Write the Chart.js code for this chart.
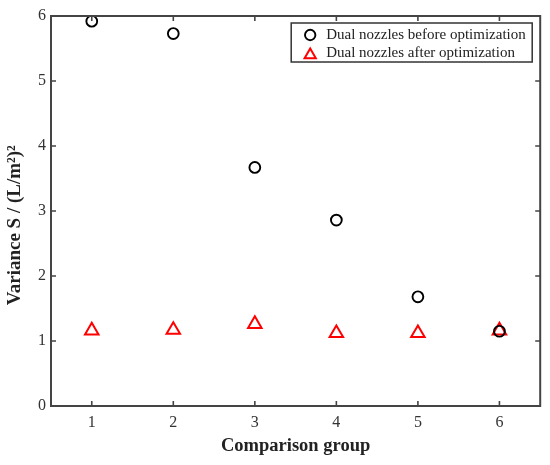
<!DOCTYPE html>
<html>
<head>
<meta charset="utf-8">
<script src="https://cdn.jsdelivr.net/npm/chart.js@4.4.0/dist/chart.umd.min.js"></script>
<style>
  html, body { margin: 0; padding: 0; background: #ffffff; }
  #wrap { width: 550px; height: 465px; }
</style>
</head>
<body>
<div id="wrap"><canvas id="c" width="550" height="465"></canvas></div>
<script>
const groups = [1, 2, 3, 4, 5, 6];
const beforeOpt = [5.92, 5.73, 3.67, 2.86, 1.68, 1.15];
const afterOpt = [1.16, 1.17, 1.26, 1.12, 1.12, 1.16];
const xTicks = [1, 2, 3, 4, 5, 6];
const yTicks = [0, 1, 2, 3, 4, 5, 6];
const seriesNames = ['Dual nozzles before optimization', 'Dual nozzles after optimization'];

const SERIF = '"Liberation Serif", "Times New Roman", serif';
const AXIS_COLOR = '#444444';
const TEXT_COLOR = '#333333';

const framePlugin = {
  id: 'frame',
  afterDatasetsDraw(chart) {
    const ctx = chart.ctx;
    const a = chart.chartArea;
    const xs = chart.scales.x, ys = chart.scales.y;
    const tl = 5;
    ctx.save();
    ctx.strokeStyle = AXIS_COLOR;
    ctx.lineWidth = 1.6;
    ctx.beginPath();
    xTicks.forEach(v => {
      const px = xs.getPixelForValue(v);
      ctx.moveTo(px, a.bottom); ctx.lineTo(px, a.bottom - tl);
      ctx.moveTo(px, a.top); ctx.lineTo(px, a.top + tl);
    });
    yTicks.forEach(v => {
      const py = ys.getPixelForValue(v);
      ctx.moveTo(a.left, py); ctx.lineTo(a.left + tl, py);
      ctx.moveTo(a.right, py); ctx.lineTo(a.right - tl, py);
    });
    ctx.stroke();
    ctx.lineWidth = 2;
    ctx.strokeRect(a.left, a.top, a.right - a.left, a.bottom - a.top);
    ctx.restore();
  },
  afterDraw(chart) {
    // legend box in the upper right corner of the plot area
    const ctx = chart.ctx;
    const a = chart.chartArea;
    const boxRight = a.right - 8, boxTop = a.top + 7;
    const boxW = 241, boxH = 39;
    const boxLeft = boxRight - boxW;
    ctx.save();
    ctx.fillStyle = '#ffffff';
    ctx.fillRect(boxLeft, boxTop, boxW, boxH);
    ctx.strokeStyle = '#333333';
    ctx.lineWidth = 1.5;
    ctx.strokeRect(boxLeft, boxTop, boxW, boxH);
    ctx.font = '15px ' + SERIF;
    ctx.textBaseline = 'middle';
    ctx.textAlign = 'left';
    chart.data.datasets.forEach((ds, i) => {
      const cy = boxTop + 12 + i * 18.5;
      const cx = boxLeft + 19;
      ctx.strokeStyle = ds.borderColor;
      ctx.fillStyle = 'rgba(0,0,0,0)';
      ctx.lineWidth = ds.borderWidth;
      Chart.helpers.drawPoint(ctx, {
        pointStyle: ds.pointStyle,
        radius: ds.pointStyle === 'triangle' ? 6.5 : 5.2,
        rotation: 0,
        borderWidth: ds.borderWidth
      }, cx, ds.pointStyle === 'triangle' ? cy + 1.5 : cy);
      ctx.fillStyle = '#222222';
      ctx.fillText(ds.label, boxLeft + 35, cy);
    });
    ctx.restore();
  }
};

new Chart(document.getElementById('c'), {
  type: 'scatter',
  data: {
    datasets: [
      {
        label: seriesNames[0],
        data: groups.map((g, i) => ({ x: g, y: beforeOpt[i] })),
        pointStyle: 'circle',
        pointRadius: 5.4,
        borderColor: '#000000',
        backgroundColor: 'rgba(0,0,0,0)',
        borderWidth: 1.9,
        showLine: false
      },
      {
        label: seriesNames[1],
        data: groups.map((g, i) => ({ x: g, y: afterOpt[i] })),
        pointStyle: 'triangle',
        pointRadius: 7.8,
        borderColor: '#ff0000',
        backgroundColor: 'rgba(0,0,0,0)',
        borderWidth: 2,
        showLine: false
      }
    ]
  },
  options: {
    responsive: false,
    animation: false,
    devicePixelRatio: 1,
    layout: { padding: { top: 16, right: 9, left: 0, bottom: 0 } },
    plugins: {
      legend: { display: false },
      tooltip: { enabled: false }
    },
    scales: {
      x: {
        type: 'linear',
        min: 0.5,
        max: 6.5,
        afterBuildTicks(scale) { scale.ticks = xTicks.map(v => ({ value: v })); },
        afterFit(scale) { scale.height = 59; },
        grid: { display: false, drawTicks: false },
        border: { display: false },
        ticks: {
          color: TEXT_COLOR,
          padding: 7,
          font: { family: SERIF, size: 16 },
          maxRotation: 0
        },
        title: {
          display: true,
          text: 'Comparison group',
          color: '#222222',
          font: { family: SERIF, size: 18.5, weight: 'bold' },
          padding: { top: 0, bottom: 8 }
        }
      },
      y: {
        type: 'linear',
        min: 0,
        max: 6,
        afterBuildTicks(scale) { scale.ticks = yTicks.map(v => ({ value: v })); },
        afterFit(scale) { scale.width = 51; },
        grid: { display: false, drawTicks: false },
        border: { display: false },
        ticks: {
          color: TEXT_COLOR,
          padding: 5,
          font: { family: SERIF, size: 16 }
        },
        title: {
          display: true,
          text: 'Variance S / (L/m\u00B2)\u00B2      ',
          color: '#222222',
          font: { family: SERIF, size: 19, weight: 'bold' },
          padding: { top: 4, bottom: 0 }
        }
      }
    }
  },
  plugins: [framePlugin]
});
</script>
</body>
</html>
